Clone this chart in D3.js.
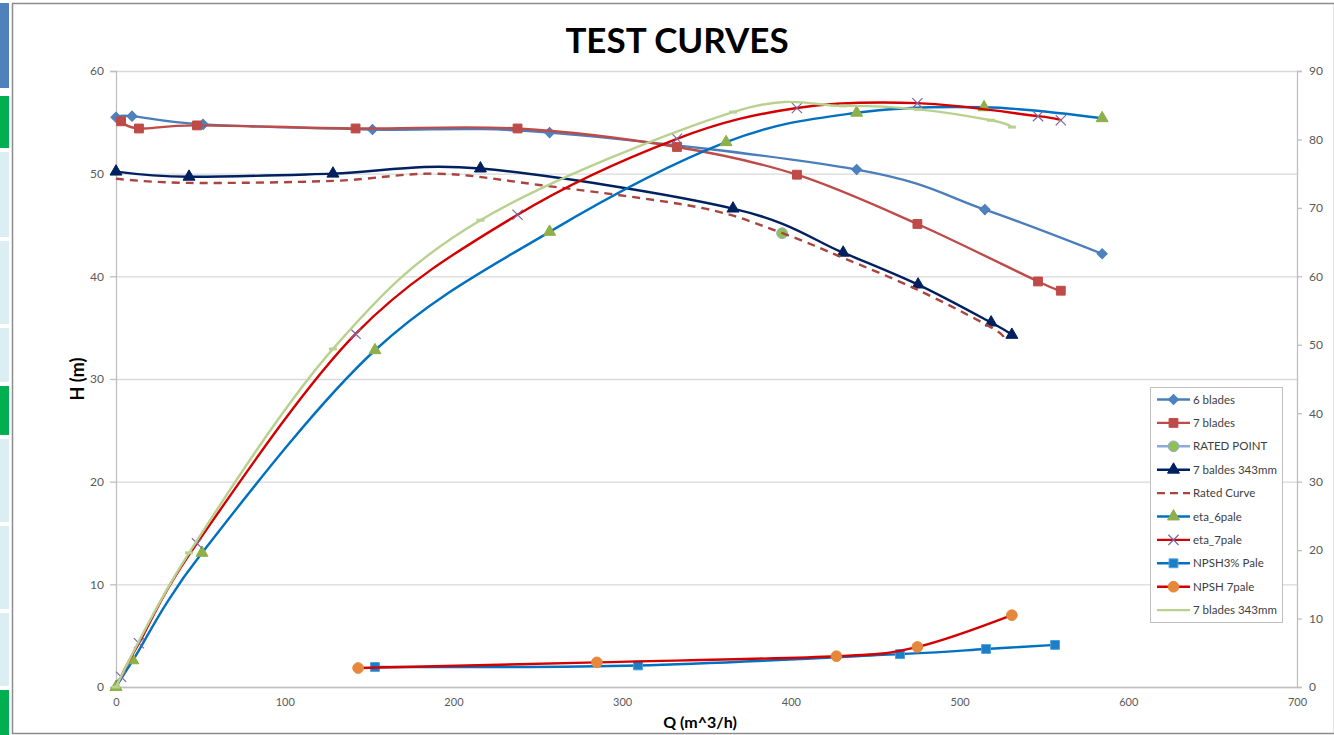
<!DOCTYPE html>
<html>
<head>
<meta charset="utf-8">
<script src="https://cdn.jsdelivr.net/npm/d3@7"></script>
<style>
body { margin: 0; background: #fff; }
svg { display: block; font-family: Lato, "Open Sans", sans-serif; }
</style>
</head>
<body>
<svg></svg>
<script>
// axis ticks
var qTicks = [0, 100, 200, 300, 400, 500, 600, 700];
var hTicks = [0, 10, 20, 30, 40, 50, 60];
var etaTicks = [0, 10, 20, 30, 40, 50, 60, 70, 80, 90];

// head curves (left axis, m)
var blades6Q = [0, 9.5, 51.6, 152, 257, 439, 515, 584.5];
var blades6H = [55.5, 55.6, 54.8, 54.3, 54.0, 50.4, 46.5, 42.2];
var blades7Q = [3, 13.6, 48, 142, 238, 332.5, 403.6, 475, 546.5, 560];
var blades7H = [55.1, 54.4, 54.7, 54.4, 54.4, 52.6, 49.9, 45.1, 39.5, 38.6];
var ratedQ = [394.8];
var ratedH = [44.2];
var baldes343Q = [0, 43.3, 128.6, 216, 365.7, 431, 475.4, 518.7, 531];
var baldes343H = [50.2, 49.7, 50.0, 50.5, 46.6, 42.3, 39.2, 35.5, 34.3];
var ratedCurveQ = [0, 43, 129, 190, 251, 346, 395, 431, 475, 519, 526];
var ratedCurveH = [49.5, 49.1, 49.3, 50.0, 48.9, 46.7, 44.2, 41.8, 38.7, 35.0, 34.0];

// efficiency curves (right axis, %)
var eta6Q = [0, 10, 51, 153.5, 257, 361.6, 439, 514.5, 584.5];
var eta6 = [0, 3.9, 19.6, 49.2, 66.5, 79.6, 83.9, 84.7, 83.1];
var eta7Q = [3, 13.6, 48, 142, 238, 332.5, 403.6, 475, 546.5, 560];
var eta7 = [1.5, 6.4, 21.0, 51.6, 69.0, 80.1, 84.6, 85.3, 83.4, 82.8];
var eta343Q = [0, 43.3, 128.6, 216, 365.7, 431, 475.4, 518.7, 531];
var eta343 = [0, 19.6, 49.4, 68.2, 84.0, 84.9, 84.4, 82.8, 81.8];

// NPSH curves (left axis, m)
var npsh6Q = [153.5, 309.4, 464.7, 515.7, 556.6];
var npsh6 = [1.95, 2.1, 3.2, 3.7, 4.1];
var npsh7Q = [143.5, 285, 427, 475, 531];
var npsh7 = [1.85, 2.4, 3.0, 3.9, 7.0];

var seriesNames = ["6 blades", "7 blades", "RATED POINT", "7 baldes 343mm", "Rated Curve",
    "eta_6pale", "eta_7pale", "NPSH3% Pale", "NPSH 7pale", "7 blades 343mm"];

var W = 1334, H = 735;
var svg = d3.select('svg').attr('width', W).attr('height', H);

var x = d3.scaleLinear().domain([0, 700]).range([116, 1297]);
var yH = d3.scaleLinear().domain([0, 60]).range([687, 71]);
var yEta = d3.scaleLinear().domain([0, 90]).range([687, 71]);

function zip(qs, vs) {
    return qs.map(function (q, i) { return [q, vs[i]]; });
}

var series = [
    { pts: zip(blades6Q, blades6H), y: yH, color: "#4a7ebb", marker: "diamond", mFill: "#4f81bd", mStroke: "#4a7ebb" },
    { pts: zip(blades7Q, blades7H), y: yH, color: "#be4b48", marker: "square", mFill: "#be4b48", mStroke: "#be4b48" },
    { pts: zip(ratedQ, ratedH), y: yH, color: "#8eaadb", marker: "circle", mFill: "#92c050", mStroke: "#8eaadb" },
    { pts: zip(baldes343Q, baldes343H), y: yH, color: "#002060", marker: "triangle", mFill: "#002060", mStroke: "#002060" },
    { pts: zip(ratedCurveQ, ratedCurveH), y: yH, color: "#a9443f", dash: "8,6", marker: null },
    { pts: zip(eta6Q, eta6), y: yEta, color: "#0070c0", marker: "triangle", mFill: "#8db04a", mStroke: "#8db04a" },
    { pts: zip(eta7Q, eta7), y: yEta, color: "#d40000", marker: "x", mFill: "none", mStroke: "#8064a2" },
    { pts: zip(npsh6Q, npsh6), y: yH, color: "#0070c0", marker: "square", mFill: "#1b7ec6", mStroke: "#4aa0dc" },
    { pts: zip(npsh7Q, npsh7), y: yH, color: "#d40000", marker: "circle", mFill: "#e6883c", mStroke: "#e6883c" },
    { pts: zip(eta343Q, eta343), y: yEta, color: "#b9d18f", marker: "dash", mFill: "#b9d18f", mStroke: "#b9d18f" }
];

// left strip of the sheet
var strip = [[3, 88, "#4f81bd"], [96, 148, "#00b050"], [152, 237, "#daeef3"], [241, 324, "#daeef3"],
    [328, 382, "#daeef3"], [386, 435, "#00b050"], [439, 522, "#daeef3"], [526, 609, "#daeef3"],
    [613, 686, "#daeef3"], [690, 735, "#00b050"]];
svg.selectAll("rect.strip").data(strip).enter().append("rect")
    .attr("class", "strip")
    .attr("x", 0).attr("y", function (d) { return d[0]; })
    .attr("width", 9).attr("height", function (d) { return d[1] - d[0]; })
    .style("fill", function (d) { return d[2]; });

// chart frame
svg.append("rect")
    .attr("x", 12.5).attr("y", 3.5)
    .attr("width", W - 12).attr("height", H - 5)
    .style("fill", "#fff")
    .style("stroke", "#8c8c8c")
    .style("stroke-width", 1.5);

// gridlines
svg.append("g")
    .attr("transform", "translate(116,0)")
    .call(d3.axisLeft(yH).tickValues(hTicks).tickSize(-(1297 - 116)).tickFormat(""))
    .call(function (g) { g.select(".domain").remove(); })
    .call(function (g) { g.selectAll("line").style("stroke", "#d9d9d9").style("stroke-width", 1.3); });

// left axis
var gl = svg.append("g")
    .attr("transform", "translate(116,0)")
    .call(d3.axisLeft(yH).tickValues(hTicks).tickSize(6).tickPadding(6));
// right axis
var gr = svg.append("g")
    .attr("transform", "translate(1297,0)")
    .call(d3.axisRight(yEta).tickValues(etaTicks).tickSize(5).tickPadding(7));
// bottom axis
var gb = svg.append("g")
    .attr("transform", "translate(0,687)")
    .call(d3.axisBottom(x).tickValues(qTicks).tickSize(0).tickPadding(11));

[gl, gr, gb].forEach(function (g) {
    g.select(".domain").style("stroke", "#bfbfbf").style("stroke-width", 1.3);
    g.selectAll(".tick line").style("stroke", "#bfbfbf").style("stroke-width", 1.3);
    g.selectAll(".tick text")
        .style("font-family", "Lato, sans-serif")
        .style("font-size", "12px")
        .style("fill", "#595959");
});
gb.selectAll(".tick text").style("font-size", "11px");

// titles
svg.append("text")
    .attr("x", 677).attr("y", 53)
    .attr("text-anchor", "middle")
    .style("font-weight", "bold")
    .style("font-size", "35px")
    .style("fill", "#000")
    .text("TEST CURVES");
svg.append("text")
    .attr("transform", "translate(84,379) rotate(-90)")
    .attr("text-anchor", "middle")
    .style("font-weight", "bold")
    .style("font-size", "18px")
    .style("fill", "#000")
    .text("H (m)");
svg.append("text")
    .attr("x", 700).attr("y", 728)
    .attr("text-anchor", "middle")
    .style("font-weight", "bold")
    .style("font-size", "16px")
    .style("fill", "#000")
    .text("Q (m^3/h)");

function drawMarker(g, s, cx, cy) {
    var t = s.marker;
    if (t === null) {
        return;
    }
    if (t === "dash") {
        g.append("line")
            .attr("x1", cx - 4).attr("x2", cx + 4)
            .attr("y1", cy).attr("y2", cy)
            .style("stroke", s.mStroke).style("stroke-width", 3);
        return;
    }
    var sym, size, rot = 0;
    if (t === "diamond") { sym = d3.symbolSquare; size = 52; rot = 45; }
    else if (t === "square") { sym = d3.symbolSquare; size = 78; }
    else if (t === "triangle") { sym = d3.symbolTriangle; size = 62; }
    else if (t === "circle") { sym = d3.symbolCircle; size = 90; }
    else { sym = d3.symbolX; size = 70; }
    g.append("path")
        .attr("d", d3.symbol().type(sym).size(size)())
        .attr("transform", "translate(" + cx + "," + cy + ") rotate(" + rot + ")")
        .style("fill", s.mFill)
        .style("stroke", s.mStroke)
        .style("stroke-width", t === "x" ? 1.2 : 1);
}

var line = d3.line().curve(d3.curveCardinal.tension(0));
var plot = svg.append("g");
series.forEach(function (s) {
    var g = plot.append("g");
    if (s.pts.length > 1) {
        g.append("path")
            .attr("d", line(s.pts.map(function (p) { return [x(p[0]), s.y(p[1])]; })))
            .style("fill", "none")
            .style("stroke", s.color)
            .style("stroke-width", 2.4)
            .style("stroke-dasharray", s.dash || null)
            .style("stroke-linejoin", "round");
    }
    s.pts.forEach(function (p) {
        drawMarker(g, s, x(p[0]), s.y(p[1]));
    });
});

// legend
var lg = svg.append("g").attr("transform", "translate(1150,387)");
lg.append("rect")
    .attr("x", 0.5).attr("y", 0.5)
    .attr("width", 132).attr("height", 235)
    .style("fill", "#fff")
    .style("stroke", "#bfbfbf");
seriesNames.forEach(function (name, i) {
    var s = series[i];
    var cy = 12.5 + i * 23.4;
    lg.append("line")
        .attr("x1", 7).attr("x2", 40)
        .attr("y1", cy).attr("y2", cy)
        .style("stroke", s.color)
        .style("stroke-width", 2.4)
        .style("stroke-dasharray", s.dash ? "8,5" : null);
    if (s.marker !== "dash") {
        drawMarker(lg, s, 23.5, cy);
    }
    lg.append("text")
        .attr("x", 43).attr("y", cy + 4)
        .style("font-size", "11.5px")
        .style("fill", "#404040")
        .text(name);
});
</script>
</body>
</html>
